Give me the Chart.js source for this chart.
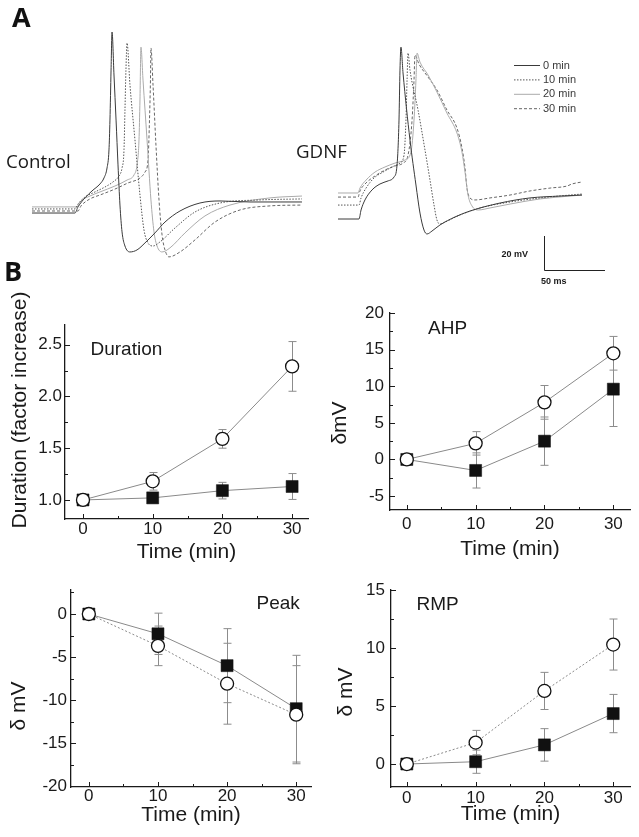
<!DOCTYPE html>
<html><head><meta charset="utf-8">
<script src="https://cdn.jsdelivr.net/npm/chart.js@4.4.1/dist/chart.umd.min.js"></script>
<style>
html,body{margin:0;padding:0;background:#fff;}
body{width:639px;height:837px;position:relative;overflow:hidden;font-family:"Liberation Sans",Arial,sans-serif;}
canvas{position:absolute;}
.t{position:absolute;white-space:nowrap;line-height:1;color:#1a1a1a;}
.os{font-family:"Open Sans",sans-serif;}
.rot{transform:translate(-50%,-50%) rotate(-90deg);}
</style></head><body>
<canvas id="ctrl" width="300" height="260" style="left:20px;top:20px"></canvas>
<canvas id="gdnf" width="280" height="275" style="left:330px;top:20px"></canvas>
<canvas id="dur" width="320" height="265" style="left:0px;top:300px"></canvas>
<canvas id="ahp" width="319" height="272" style="left:320px;top:290px"></canvas>
<canvas id="peak" width="320" height="258" style="left:0px;top:570px"></canvas>
<canvas id="rmp" width="319" height="257" style="left:320px;top:570px"></canvas>

<div class="t os" style="left:12px;top:3px;font-size:27px;font-weight:700;color:#111">A</div>
<div class="t os" style="left:4px;top:257px;font-size:27px;font-weight:700;color:#111">B</div>
<div class="t os" style="left:6px;top:152px;font-size:18.7px">Control</div>
<div class="t os" style="left:296px;top:142px;font-size:18.7px">GDNF</div>
<div class="t" style="right:111px;top:249.5px;font-size:9px;font-weight:700">20 mV</div>
<div class="t" style="left:541px;top:276.5px;font-size:9px;font-weight:700">50 ms</div>
<div class="t" style="left:90.5px;top:339px;font-size:19px">Duration</div>
<div class="t" style="left:428px;top:317.5px;font-size:19px">AHP</div>
<div class="t" style="left:256.5px;top:592.5px;font-size:19px">Peak</div>
<div class="t" style="left:416.5px;top:593.5px;font-size:19px">RMP</div>
<div class="t rot" style="left:18px;top:410px;font-size:21px">Duration (factor increase)</div>
<div class="t rot" style="left:338px;top:423px;font-size:21px">δmV</div>
<div class="t rot" style="left:17px;top:706px;font-size:21px">δ mV</div>
<div class="t rot" style="left:344px;top:692px;font-size:21px">δ mV</div>

<script>
// ---------------- DATA ----------------
const traceLabels = ['0 min', '10 min', '20 min', '30 min'];
// Panel A traces: [time (ms), membrane potential (mV)]
const control0 = [[0,-66.8],[35.2,-66.8],[37.7,-63.2],[43.4,-57.9],[49.2,-53.8],[55.7,-49.7],[59.0,-46.2],[61.5,-40.3],[63.1,-29.7],[63.9,-12.1],[64.8,17.3],[65.6,39.7],[67.2,14.4],[68.9,-12.1],[70.5,-38.5],[72.1,-62.1],[73.8,-77.9],[76.2,-86.2],[80.3,-89.7],[86.1,-88.5],[92.6,-84.4],[100.8,-78.5],[109.0,-72.1],[121.3,-65.6],[137.7,-60.9],[154.1,-59.7],[178.7,-60.3],[203.3,-60.3],[221.3,-60.3]];
const control10 = [[0,-64.4],[35.2,-64.4],[37.7,-61.5],[43.4,-57.4],[51.6,-54.4],[59.8,-51.5],[66.4,-48.5],[71.3,-45],[73.8,-40.3],[75.4,-29.7],[76.2,-6.2],[77.0,17.3],[77.9,33.2],[80.3,8.5],[84.4,-23.8],[88.5,-56.2],[91.8,-76.8],[95.1,-84.4],[99.2,-86.2],[104.9,-83.8],[117.2,-75.6],[133.6,-66.2],[154.1,-60.9],[186.9,-59.1],[221.3,-58.5]];
const control20 = [[0,-63.2],[36.9,-63.2],[39.3,-60.3],[47.5,-56.8],[55.7,-54.4],[68.0,-50.9],[77.9,-47.4],[83.6,-44.4],[86.1,-38.5],[87.7,-23.8],[88.5,-0.3],[89.3,30.8],[91.0,11.4],[94.3,-23.8],[97.5,-59.1],[100.0,-77.9],[102.5,-86.2],[106.6,-89.7],[113.1,-87.3],[125.4,-78.5],[141.8,-68.5],[162.3,-62.1],[195.1,-57.9],[221.3,-56.8]];
const control30 = [[0,-65.6],[37.7,-65.6],[40.2,-62.6],[47.5,-58.5],[55.7,-56.2],[68.0,-52.7],[78.7,-49.1],[88.5,-46.2],[92.6,-42.7],[95.1,-35.6],[96.3,-12.1],[97.1,11.4],[97.5,30.3],[99.2,8.5],[101.6,-26.8],[104.1,-59.1],[106.6,-79.7],[109.0,-88.5],[112.3,-92.6],[121.3,-89.7],[133.6,-82.6],[150.0,-72.1],[170.5,-65],[195.1,-62.6],[221.3,-62.1]];
const gdnf0 = [[0,-70.3],[17.2,-70.3],[18.9,-65],[22.1,-59.1],[27.9,-53.2],[34.4,-49.7],[41.0,-47.9],[45.9,-45.6],[48.4,-38.5],[50.0,-12.1],[50.8,17.3],[51.6,30.8],[53.3,15.6],[59.0,-23.8],[63.9,-50.3],[67.2,-66.8],[70.5,-76.8],[73.0,-79.1],[77.0,-77.4],[83.6,-73.8],[95.9,-69.1],[108.2,-65.6],[132.8,-60.9],[157.4,-57.9],[182.0,-56.8],[200.0,-56.2]];
const gdnf10 = [[0,-62.1],[17.2,-62.1],[18.9,-57.9],[23.0,-52.1],[29.5,-46.2],[36.9,-42.7],[44.3,-39.7],[50.8,-37.4],[54.1,-32.7],[55.7,-12.1],[56.6,11.4],[57.4,27.3],[59.0,17.3],[65.6,-6.2],[71.3,-29.7],[75.4,-47.4],[78.7,-62.1],[81.1,-70.9],[83.6,-73.2],[87.7,-72.1],[100.0,-67.9],[116.4,-63.8],[141.0,-60.3],[165.6,-57.9],[190.2,-56.2],[200.0,-55.6]];
const gdnf20 = [[0,-55],[16.4,-55],[18.0,-52.1],[23.0,-47.4],[30.3,-42.7],[38.5,-39.7],[46.7,-37.4],[54.9,-35.6],[59.8,-30.9],[62.3,-12.1],[63.9,11.4],[64.8,27.3],[67.2,22],[73.8,14.4],[81.1,4.4],[89.3,-8],[97.5,-19.7],[101.6,-30.9],[104.1,-42.7],[106.6,-56.2],[109.8,-62.6],[114.8,-65],[124.6,-63.8],[141.0,-61.5],[165.6,-58.5],[190.2,-56.8],[200.0,-56.2]];
const gdnf30 = [[0,-57.4],[16.4,-57.4],[18.0,-53.8],[23.0,-49.1],[30.3,-45],[38.5,-41.5],[46.7,-39.1],[53.3,-37.4],[57.4,-32.7],[60.7,-12.1],[62.3,11.4],[63.1,26.1],[66.4,20.8],[73.8,13.2],[81.1,5.6],[89.3,-6.2],[97.5,-16.8],[101.6,-28.5],[104.1,-40.3],[105.7,-52.1],[108.2,-57.9],[112.3,-59.1],[124.6,-57.9],[141.0,-56.2],[157.4,-53.8],[173.8,-52.1],[187.7,-50.9],[191.8,-49.7],[200.0,-48.5]];
const scaleBarMs = 50, scaleBarMv = 20;

// Panel B: time points and values (open circles / filled squares), with SEM
const timeMin = [0, 10, 20, 30];
const timeTicks = [0, 10, 20, 30];
const timeMinor = [5, 15, 25];

const durationOpen = [1.00, 1.18, 1.59, 2.29];
const durationOpenErr = [0, 0.085, 0.09, 0.24];
const durationFilled = [1.00, 1.02, 1.09, 1.13];
const durationFilledErr = [0, 0.035, 0.08, 0.125];
const durationYTicks = [1.0, 1.5, 2.0, 2.5];
const durationYMinor = [1.25, 1.75, 2.25];

const ahpOpen = [0, 2.2, 7.8, 14.5];
const ahpOpenErr = [0, 1.6, 2.3, 2.3];
const ahpFilled = [0, -1.5, 2.5, 9.6];
const ahpFilledErr = [0, 2.4, 3.3, 5.1];
const ahpYTicks = [-5, 0, 5, 10, 15, 20];
const ahpYMinor = [-2.5, 2.5, 7.5, 12.5, 17.5];

const peakOpen = [0, -3.7, -8.1, -11.7];
const peakOpenErr = [0, 2.3, 4.7, 5.7];
const peakFilled = [0, -2.3, -6.0, -11.0];
const peakFilledErr = [0, 2.4, 4.3, 6.2];
const peakYTicks = [-20, -15, -10, -5, 0];
const peakYMinor = [-17.5, -12.5, -7.5, -2.5, 2.5];

const rmpOpen = [0, 1.85, 6.3, 10.3];
const rmpOpenErr = [0, 1.05, 1.6, 2.2];
const rmpFilled = [0, 0.2, 1.65, 4.35];
const rmpFilledErr = [0, 1.0, 1.4, 1.65];
const rmpYTicks = [0, 5, 10, 15];
const rmpYMinor = [2.5, 7.5, 12.5];

// ---------------- CHARTS ----------------
const SANS = '"Liberation Sans", Arial, sans-serif';
Chart.defaults.font.family = SANS;
Chart.defaults.color = '#1a1a1a';

const traceStyles = [
  {c:'#3a3a3a', dash:[]},
  {c:'#555555', dash:[1.5,1.5]},
  {c:'#ababab', dash:[]},
  {c:'#666666', dash:[3,2]}
];

function traceChart(id, sets, xr, yr, plugins) {
  return new Chart(document.getElementById(id), {
    type: 'scatter',
    data: { datasets: sets.map((d, i) => ({
      label: traceLabels[i],
      data: d.map(p => ({x: p[0], y: p[1]})),
      showLine: true, pointRadius: 0, borderWidth: 1,
      borderColor: traceStyles[i].c, borderDash: traceStyles[i].dash,
      cubicInterpolationMode: 'monotone', fill: false
    })) },
    options: {
      responsive: false, animation: false, devicePixelRatio: 1,
      layout: {padding: 0},
      plugins: {legend: {display: false}, tooltip: {enabled: false}},
      scales: {
        x: {type: 'linear', display: false, min: xr[0], max: xr[1]},
        y: {type: 'linear', display: false, min: yr[0], max: yr[1]}
      }
    },
    plugins: plugins || []
  });
}

const traceLegend = {
  id: 'traceLegend',
  afterDraw(chart) {
    const ctx = chart.ctx;
    ctx.save();
    ctx.font = '11px ' + SANS;
    ctx.textBaseline = 'middle';
    chart.data.datasets.forEach((ds, i) => {
      const y = 45 + i * 14.4;
      ctx.strokeStyle = ds.borderColor;
      ctx.setLineDash(ds.borderDash || []);
      ctx.lineWidth = 1;
      ctx.beginPath(); ctx.moveTo(184, y + 0.5); ctx.lineTo(210, y + 0.5); ctx.stroke();
      ctx.setLineDash([]);
      ctx.fillStyle = '#3a3a3a';
      ctx.fillText(ds.label, 213, y + 0.5);
    });
    ctx.restore();
  }
};

const scaleBar = {
  id: 'scaleBar',
  afterDraw(chart) {
    const {ctx, scales: {x, y}} = chart;
    const t0 = 168.85, v0 = -100.3;
    const x0 = Math.round(x.getPixelForValue(t0)) + 0.5;
    const y0 = Math.round(y.getPixelForValue(v0)) + 0.5;
    const x1 = x.getPixelForValue(t0 + scaleBarMs);
    const y1 = y.getPixelForValue(v0 + scaleBarMv);
    ctx.save();
    ctx.strokeStyle = '#222'; ctx.lineWidth = 1;
    ctx.beginPath(); ctx.moveTo(x0, y1); ctx.lineTo(x0, y0); ctx.lineTo(x1, y0); ctx.stroke();
    ctx.restore();
  }
};

traceChart('ctrl', [control0, control10, control20, control30], [-9.84, 236.07], [-106.2, 46.76]);
traceChart('gdnf', [gdnf0, gdnf10, gdnf20, gdnf30], [-6.56, 222.95], [-115.0, 46.76], [traceLegend, scaleBar]);

const errorBars = {
  id: 'errorBars',
  beforeDatasetsDraw(chart) {
    const {ctx, scales: {x, y}} = chart;
    ctx.save();
    ctx.strokeStyle = '#8c8c8c'; ctx.lineWidth = 1;
    chart.data.datasets.forEach(ds => {
      if (!ds.errors) return;
      ds.data.forEach((p, i) => {
        const e = ds.errors[i];
        if (!e) return;
        const px = Math.round(x.getPixelForValue(p.x)) + 0.5;
        const top = y.getPixelForValue(p.y + e), bot = y.getPixelForValue(p.y - e);
        ctx.beginPath();
        ctx.moveTo(px, top); ctx.lineTo(px, bot);
        ctx.moveTo(px - 4, top); ctx.lineTo(px + 4, top);
        ctx.moveTo(px - 4, bot); ctx.lineTo(px + 4, bot);
        ctx.stroke();
      });
    });
    ctx.restore();
  }
};

function inwardTicks(xMinor, yMinor) {
  return {
    id: 'inwardTicks',
    afterDraw(chart) {
      const {ctx, chartArea: a, scales: {x, y}} = chart;
      ctx.save();
      ctx.strokeStyle = '#1a1a1a'; ctx.lineWidth = 1;
      ctx.beginPath();
      const vx = (v, len) => { const p = Math.round(x.getPixelForValue(v)) + 0.5; ctx.moveTo(p, a.bottom); ctx.lineTo(p, a.bottom - len); };
      const vy = (v, len) => { const p = Math.round(y.getPixelForValue(v)) + 0.5; ctx.moveTo(a.left, p); ctx.lineTo(a.left + len, p); };
      x.ticks.forEach(t => vx(t.value, 5));
      xMinor.forEach(v => vx(v, 3));
      y.ticks.forEach(t => vy(t.value, 5));
      yMinor.filter(v => v >= y.min && v <= y.max).forEach(v => vy(v, 3));
      ctx.stroke();
      ctx.restore();
    }
  };
}

function series(vals, errs, kind, dashed) {
  const open = kind === 'open';
  return {
    data: timeMin.map((t, i) => ({x: t, y: vals[i]})),
    errors: errs,
    showLine: true,
    borderColor: '#8a8a8a', borderWidth: 1, borderDash: dashed ? [2, 2] : [],
    pointStyle: open ? 'circle' : 'rect',
    pointRadius: open ? 6.5 : 8.5,
    pointBackgroundColor: open ? '#ffffff' : '#111111',
    pointBorderColor: '#111111',
    pointBorderWidth: open ? 1.3 : 0.5,
    fill: false, tension: 0
  };
}

function panelB(id, o) {
  return new Chart(document.getElementById(id), {
    type: 'scatter',
    data: {datasets: o.datasets},
    options: {
      responsive: false, animation: false, devicePixelRatio: 1,
      layout: {padding: {top: o.padTop, right: o.padRight, left: 0, bottom: 0}},
      plugins: {legend: {display: false}, tooltip: {enabled: false}},
      scales: {
        x: {
          type: 'linear', min: o.xRange[0], max: o.xRange[1],
          afterBuildTicks: s => { s.ticks = timeTicks.map(v => ({value: v})); },
          afterFit: s => { s.height = o.xH; s.paddingLeft = 0; s.paddingRight = 0; },
          grid: {display: false, drawTicks: false},
          border: {display: true, color: '#1a1a1a', width: 1.3},
          ticks: {font: {size: 17}, color: '#1a1a1a', padding: o.xPad, maxRotation: 0, autoSkip: false},
          title: {display: true, text: 'Time (min)', font: {size: 21}, color: '#1a1a1a', padding: {top: 0, bottom: 0}}
        },
        y: {
          type: 'linear', min: o.yRange[0], max: o.yRange[1],
          afterBuildTicks: s => { s.ticks = o.yTicks.map(v => ({value: v})); },
          afterFit: s => { s.width = o.yW; s.paddingTop = 0; s.paddingBottom = 0; },
          grid: {display: false, drawTicks: false},
          border: {display: true, color: '#1a1a1a', width: 1.3},
          ticks: {font: {size: 17}, color: '#1a1a1a', padding: o.yPad, autoSkip: false,
                  callback: v => o.yFmt ? o.yFmt(v) : String(v)},
          title: {display: false}
        }
      }
    },
    plugins: [errorBars, inwardTicks(timeMinor, o.yMinor)]
  });
}

panelB('dur', {
  datasets: [series(durationOpen, durationOpenErr, 'open', false), series(durationFilled, durationFilledErr, 'filled', false)],
  xRange: [-2.58, 32.28], yRange: [0.816, 2.69], yTicks: durationYTicks, yMinor: durationYMinor,
  yFmt: v => v.toFixed(1), padTop: 25, padRight: 12, yW: 65, xH: 46, xPad: 0, yPad: 3
});
panelB('ahp', {
  datasets: [series(ahpOpen, ahpOpenErr, 'open', false), series(ahpFilled, ahpFilledErr, 'filled', false)],
  xRange: [-2.44, 32.42], yRange: [-6.9, 20], yTicks: ahpYTicks, yMinor: ahpYMinor,
  padTop: 23, padRight: 6, yW: 70, xH: 52, xPad: 4, yPad: 6
});
panelB('peak', {
  datasets: [series(peakOpen, peakOpenErr, 'open', true), series(peakFilled, peakFilledErr, 'filled', false)],
  xRange: [-2.58, 32.14], yRange: [-20.1, 2.79], yTicks: peakYTicks, yMinor: peakYMinor,
  padTop: 20, padRight: 7, yW: 71, xH: 41, xPad: -1, yPad: 4
});
panelB('rmp', {
  datasets: [series(rmpOpen, rmpOpenErr, 'open', true), series(rmpFilled, rmpFilledErr, 'filled', false)],
  xRange: [-2.3, 32.44], yRange: [-1.98, 15], yTicks: rmpYTicks, yMinor: rmpYMinor,
  padTop: 20, padRight: 6, yW: 71, xH: 40, xPad: 1, yPad: 6
});
</script>
</body></html>
